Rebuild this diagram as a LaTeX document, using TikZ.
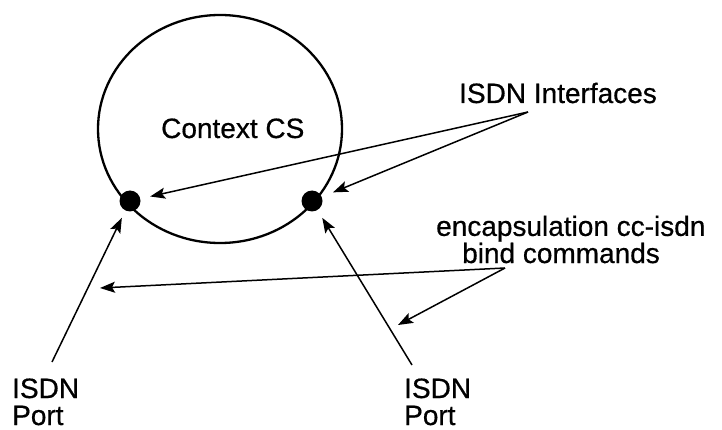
\documentclass[tikz,border=0pt]{standalone}
\usepackage{fontspec}
\setmainfont{Liberation Sans}[FakeBold=0.6]
\usetikzlibrary{arrows.meta,shapes.geometric}
\begin{document}
\begin{tikzpicture}[x=1pt,y=-1pt,
  lbl/.style={font=\fontsize{28}{27}\selectfont, inner sep=0pt, align=left},
  arr/.style={line width=1.5pt, -{Stealth[length=15pt,width=11pt,inset=3pt]}},
  dotnode/.style={circle, fill=black, minimum size=21pt, inner sep=0pt},
  ring/.style={draw, ellipse, line width=2.3pt, minimum width=244pt, minimum height=228pt, inner sep=0pt}]
\useasboundingbox (0,0) rectangle (722,430);
\node[ring] (ctx) at (220,129) {};
\node[lbl, anchor=base west] (ctxl) at (161,138) {Context CS};
\node[dotnode] (dotL) at (130,201) {};
\node[dotnode] (dotR) at (312,201) {};
\node[lbl, anchor=base west] (ifl) at (459,103) {ISDN Interfaces};
\node[lbl, anchor=base west, font=\fontsize{28}{26}\selectfont] (enc) at (436,263) {encapsulation cc-isdn\\\hspace*{26pt}bind commands};
\node[lbl, anchor=base west] (portL) at (12,425) {ISDN\\Port};
\node[lbl, anchor=base west] (portR) at (404,425) {ISDN\\Port};
\coordinate (ifo) at (528,112);
\coordinate (enco) at (505,268);
\coordinate (pLs) at (52,362);
\coordinate (pRs) at (412,365);
\coordinate (tL) at (100,288);
\coordinate (tR) at (398,325);
\draw[arr, shorten >=10pt] (ifo) -- (dotL);
\draw[arr, shorten >=12pt] (ifo) -- (dotR);
\draw[arr, shorten >=8pt] (pLs) -- (dotL);
\draw[arr, shorten >=9pt] (pRs) -- (dotR);
\draw[arr] (enco) -- (tL);
\draw[arr] (enco) -- (tR);
\end{tikzpicture}
\end{document}
